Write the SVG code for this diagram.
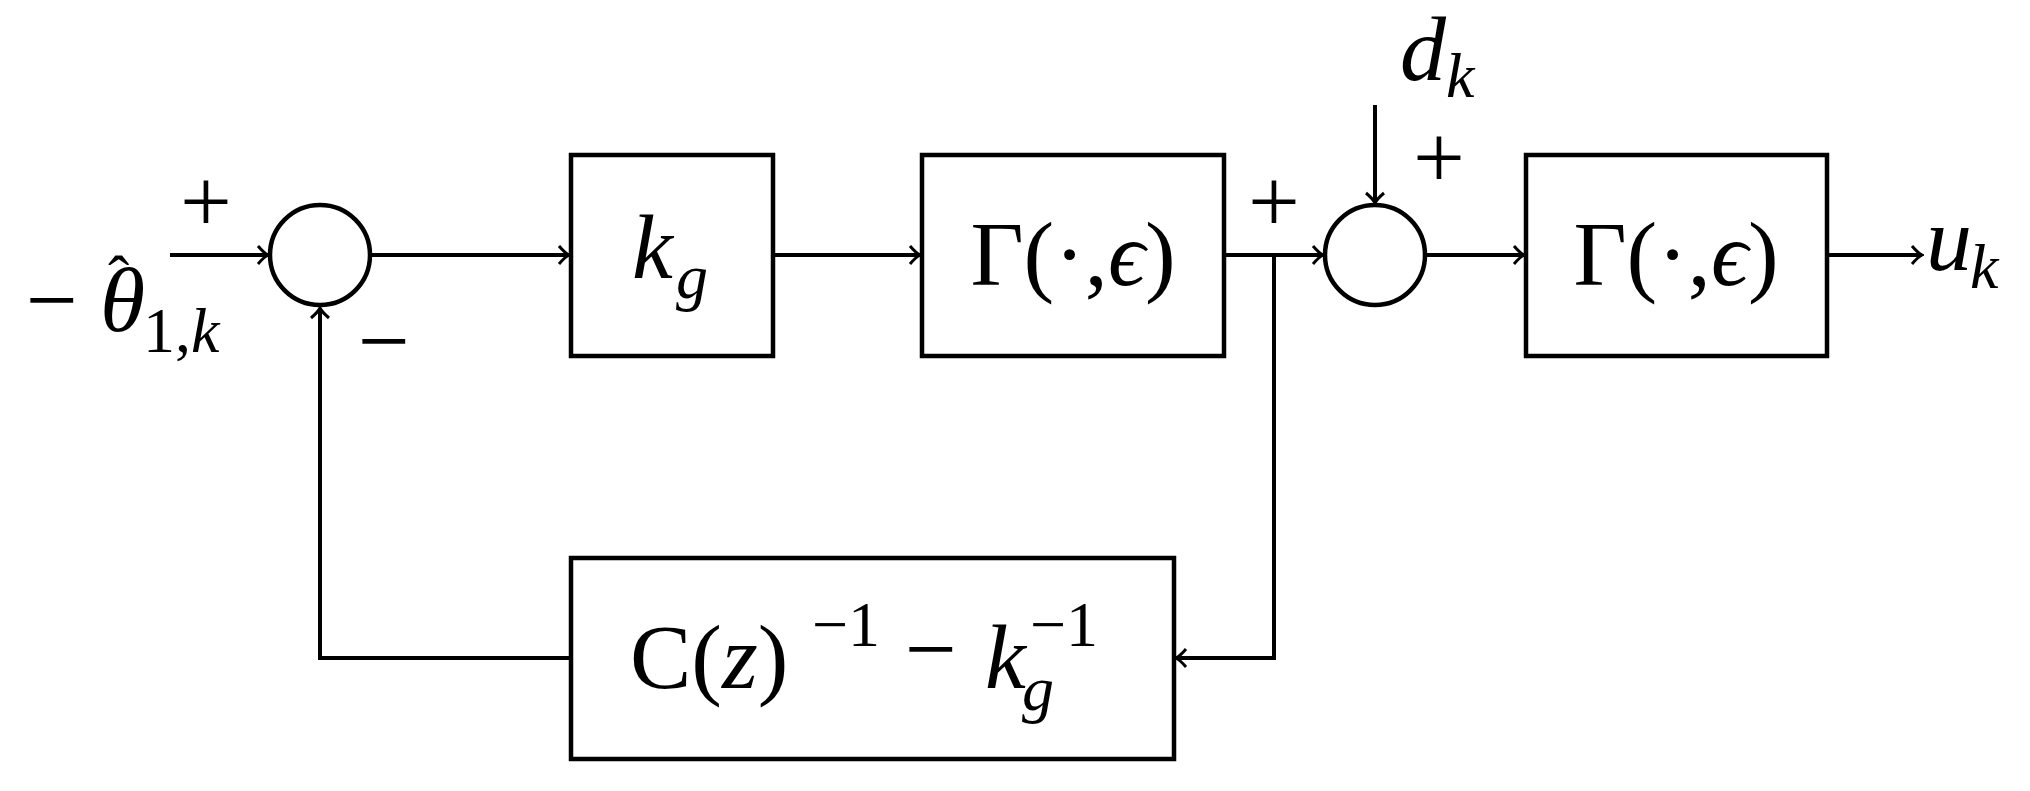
<svg xmlns="http://www.w3.org/2000/svg" width="2030" height="791" viewBox="0 0 2030 791">
<style>
.b{fill:#fff;stroke:#000;stroke-width:4.5}
.l{fill:none;stroke:#000;stroke-width:4}
text{font-family:"Liberation Serif",serif;font-size:92px;fill:#000}
.i{font-style:italic}
.s{font-size:64px}
</style>
<defs>
<marker id="a" viewBox="-12 -10 14 20" markerWidth="14" markerHeight="20" refX="0" refY="0" orient="auto" markerUnits="userSpaceOnUse">
<path d="M-10,-9 Q-4,-2 0,0 Q-4,2 -10,9" fill="none" stroke="#000" stroke-width="3"/>
</marker>
</defs>
<g id="connectors" class="l">
<path d="M170,255 H268" marker-end="url(#a)"/>
<path d="M371,255 H569" marker-end="url(#a)"/>
<path d="M773,255 H920" marker-end="url(#a)"/>
<path d="M1225,255 H1323" marker-end="url(#a)"/>
<path d="M1375,105 V203" marker-end="url(#a)"/>
<path d="M1426,255 H1524" marker-end="url(#a)"/>
<path d="M1827,255 H1922" marker-end="url(#a)"/>
<path d="M1274,255 V658 H1176" marker-end="url(#a)"/>
<path d="M571,658 H320 V308" marker-end="url(#a)"/>
</g>
<g id="sum1"><ellipse class="b" cx="320" cy="255" rx="50" ry="50"/></g>
<g id="sum2"><ellipse class="b" cx="1375" cy="255" rx="50" ry="50"/></g>
<g id="kg"><rect class="b" x="571" y="155" width="202" height="201"/>
<text x="632" y="278" class="i">k</text><text x="676" y="298" class="i s">g</text></g>
<g id="gamma1"><rect class="b" x="922" y="155" width="302" height="201"/>
<text x="1073" y="285" text-anchor="middle">Γ(·,<tspan class="i">ϵ</tspan>)</text></g>
<g id="gamma2"><rect class="b" x="1526" y="155" width="301" height="201"/>
<text x="1676" y="285" text-anchor="middle">Γ(·,<tspan class="i">ϵ</tspan>)</text></g>
<g id="feedback"><rect class="b" x="571" y="558" width="603" height="201"/>
<text x="630" y="688">C(<tspan class="i">z</tspan>)</text>
<text x="812" y="646" class="s">−1</text>
<text x="905" y="680">−</text>
<text x="985" y="688" class="i">k</text>
<text x="1022" y="710" class="i s">g</text>
<text x="1030" y="646" class="s">−1</text></g>
<g id="labels">
<text x="206" y="232" text-anchor="middle">+</text>
<text x="384" y="372" text-anchor="middle">−</text>
<text x="26" y="331">−</text>
<text x="100" y="331" class="i">θ</text>
<text x="108" y="300" class="s">ˆ</text>
<text x="143" y="352" class="s">1,<tspan class="i">k</tspan></text>
<text x="1274" y="232" text-anchor="middle">+</text>
<text x="1439" y="188" text-anchor="middle">+</text>
<text x="1400" y="80" class="i">d</text><text x="1446" y="97" class="i s">k</text>
<text x="1926" y="270" class="i">u</text><text x="1970" y="288" class="i s">k</text>
</g>
</svg>
